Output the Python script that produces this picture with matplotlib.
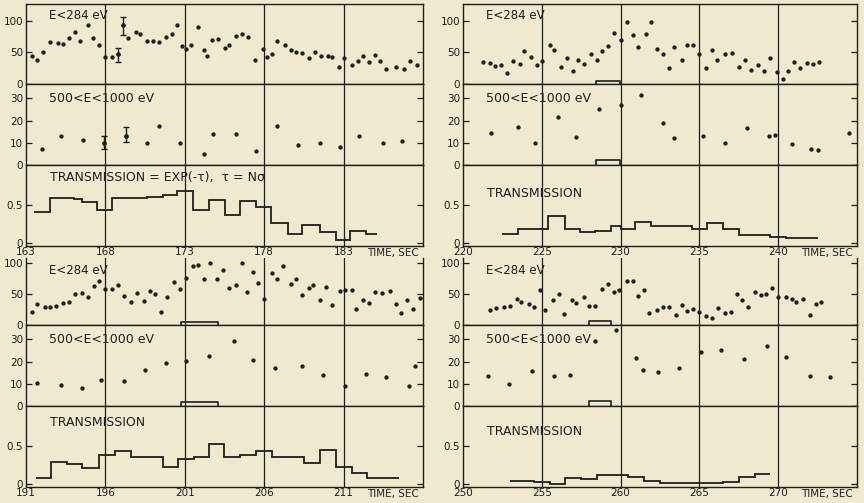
import numpy as np
import matplotlib
matplotlib.use("Agg")
import matplotlib.pyplot as plt

# ---- block 1: 163-188 s ----
t1_low = [163.4, 163.7, 164.1, 164.5, 165.0, 165.3, 165.7, 166.1, 166.4, 166.9, 167.2, 167.6,
          168.0, 168.4, 168.8, 169.1, 169.4, 169.9, 170.2, 170.6, 171.0, 171.4, 171.8, 172.2,
          172.5, 172.8, 173.1, 173.4, 173.8, 174.2, 174.4, 174.7, 175.1, 175.5, 175.8, 176.2,
          176.6, 177.0, 177.4, 177.9, 178.2, 178.5, 178.8, 179.3, 179.7, 180.0, 180.4, 180.8,
          181.2, 181.6, 182.0, 182.3, 182.7, 183.0, 183.5, 183.9, 184.2, 184.6, 185.0, 185.3,
          185.7, 186.3, 186.8, 187.2, 187.6]
e1_low = [44.7, 38, 51, 65.8, 64.2, 63.7, 73.2, 82.6, 67.9, 93, 73.2, 61.6,
          43.2, 42.1, 47.4, 93, 73.2, 81.6, 78.9, 67.9, 67.9, 66.3, 74.7, 79.5,
          93.7, 60, 55.8, 61.6, 90.5, 54.2, 44.7, 70, 71, 57, 62, 75.3,
          79.5, 74.2, 37.9, 54.7, 42.1, 47.4, 67.4, 61.6, 54.2, 50.5, 49.5, 40.5,
          50, 44.7, 44.2, 42.1, 26.3, 41.6, 30.5, 36.3, 44.2, 34.2, 45.3, 36.8,
          23.2, 26.8, 23.7, 36.8, 29.5]
t1_low_err = [168.8, 169.1]
e1_low_mid = [47.4, 93]
e1_low_lo = [35, 77]
e1_low_hi = [56, 106]

t1_high = [164.0, 165.2, 166.6, 167.9, 169.3, 170.6, 171.4, 172.7, 174.2, 174.8, 176.2, 177.5,
           178.8, 180.1, 181.5, 182.8, 184.0, 185.5, 186.7]
e1_high = [7.1, 13.2, 11.3, 10, 13, 10.1, 17.6, 10.1, 5, 14, 14, 6.2,
           17.4, 9, 10, 7.9, 13.1, 10, 11]
t1_high_err = [167.9, 169.3]
e1_high_mid = [10, 13]
e1_high_lo = [7.1, 10.3]
e1_high_hi = [13.2, 17]

tr1_edges = [163.5, 164.5, 166.0, 166.5, 167.5, 168.4, 170.6, 171.6, 172.5, 173.5, 174.5,
             175.5, 176.5, 177.5, 178.4, 179.5, 180.4, 181.5, 182.5, 183.4, 184.4, 185.1]
tr1 = [0.41, 0.60, 0.58, 0.54, 0.44, 0.59, 0.61, 0.63, 0.68, 0.44, 0.57,
       0.37, 0.56, 0.48, 0.26, 0.12, 0.24, 0.15, 0.04, 0.16, 0.12]

# ---- block 2: 220-245 s ----
t2_low = [221.3, 221.7, 222.0, 222.4, 222.8, 223.2, 223.6, 223.9, 224.3, 224.7, 225.0, 225.5,
          225.8, 226.2, 226.6, 227.0, 227.3, 227.7, 228.1, 228.5, 228.8, 229.2, 229.6, 230.0,
          230.4, 230.8, 231.1, 231.6, 231.9, 232.3, 232.7, 233.1, 233.4, 233.9, 234.2, 234.6,
          235.0, 235.4, 235.8, 236.1, 236.6, 237.1, 237.5, 237.9, 238.3, 238.7, 239.1, 239.5,
          239.9, 240.3, 240.6, 241.0, 241.4, 241.8, 242.2, 242.6]
e2_low = [34.6, 33, 28.7, 30.3, 18.1, 35.6, 31.9, 52.1, 42, 29.8, 36.2, 61.2,
          53.2, 26.1, 41.5, 20.7, 37.2, 31.9, 47.3, 37.2, 52.7, 59.6, 80.9, 69.1,
          97.9, 76.6, 58, 78.7, 97.9, 55.3, 47.3, 25.5, 59, 38.3, 61.2, 62.2,
          47.9, 25.5, 53.7, 38.3, 47.3, 48.9, 27.1, 37.8, 21.3, 30.3, 19.7, 40.4,
          18.6, 8.5, 19.7, 34.6, 24.5, 33, 31.9, 34]

t2_high = [221.8, 223.5, 224.6, 226.0, 227.2, 228.6, 230.0, 231.3, 232.7, 233.4, 235.2, 236.6,
           238.0, 239.4, 239.8, 240.9, 242.1, 242.5, 244.5]
e2_high = [14.5, 17.2, 10, 21.7, 12.7, 25.4, 27, 31.4, 19, 12, 13, 10,
           16.7, 13, 13.3, 9.3, 7, 6.7, 14.2]

tr2_edges = [222.5, 223.5, 225.4, 226.5, 227.4, 228.4, 229.4, 230.0, 230.9, 231.9, 234.5,
             235.5, 236.5, 237.5, 239.5, 240.5, 242.5]
tr2 = [0.12, 0.19, 0.35, 0.19, 0.14, 0.16, 0.22, 0.19, 0.28, 0.23, 0.18,
       0.26, 0.18, 0.10, 0.08, 0.06]

# ---- block 3: 191-216 s ----
t3_low = [191.4, 191.7, 192.2, 192.5, 192.9, 193.3, 193.7, 194.1, 194.5, 194.9, 195.3, 195.6,
          196.0, 196.4, 196.8, 197.2, 197.6, 198.0, 198.4, 198.8, 199.1, 199.5, 199.9, 200.3,
          200.7, 201.1, 201.5, 201.8, 202.2, 202.6, 203.0, 203.4, 203.8, 204.2, 204.6, 204.9,
          205.3, 205.6, 206.0, 206.5, 206.8, 207.2, 207.7, 208.0, 208.4, 208.8, 209.1, 209.5,
          209.9, 210.3, 210.8, 211.1, 211.5, 211.8, 212.2, 212.6, 213.0, 213.4, 213.9, 214.3,
          214.6, 215.0, 215.4, 215.8]
e3_low = [20.3, 33.2, 29.4, 29.4, 31, 34.8, 36.4, 49.2, 50.8, 45.5, 62.6, 71.1,
          58.8, 57.8, 64.2, 47.1, 37.4, 51.9, 38.5, 54.5, 49.7, 21.4, 45.5, 69,
          58.8, 75.9, 94.7, 97.3, 74.9, 100.5, 74.9, 88.2, 59.9, 65.2, 100.5, 52.4,
          85.6, 67.9, 41.2, 84, 73.8, 94.7, 65.8, 73.8, 48.1, 59.4, 64.7, 40.1,
          61, 32.1, 54.5, 57.2, 56.1, 26.2, 40.1, 34.8, 52.4, 51.3, 55.1, 33.2,
          18.7, 40.1, 25.7, 42.8]

t3_high = [191.7, 193.2, 194.5, 195.7, 197.2, 198.5, 199.8, 201.1, 202.5, 204.1, 205.3, 206.7,
           208.4, 209.7, 211.1, 212.4, 213.7, 215.1, 215.5]
e3_high = [10.3, 9.6, 8.1, 11.8, 11.3, 16.3, 19.3, 20.2, 22.7, 29.5, 20.8, 17.2,
           17.9, 13.9, 8.8, 14.2, 12.9, 9, 17.8]

tr3_edges = [191.6, 192.6, 193.6, 194.5, 195.6, 196.6, 197.6, 199.6, 200.6, 201.6, 202.5,
             203.5, 204.5, 205.5, 206.5, 208.5, 209.5, 210.5, 211.5, 212.5, 214.5]
tr3 = [0.08, 0.29, 0.26, 0.21, 0.38, 0.43, 0.35, 0.22, 0.33, 0.36, 0.53,
       0.36, 0.38, 0.44, 0.35, 0.28, 0.45, 0.22, 0.15, 0.08]

# ---- block 4: 250-275 s ----
t4_low = [251.7, 252.1, 252.6, 253.0, 253.4, 253.7, 254.2, 254.5, 254.9, 255.2, 255.7, 256.1,
          256.4, 256.9, 257.2, 257.7, 258.0, 258.4, 258.8, 259.2, 259.6, 259.9, 260.4, 260.8,
          261.1, 261.5, 261.8, 262.3, 262.7, 263.1, 263.5, 263.9, 264.2, 264.6, 265.0, 265.4,
          265.8, 266.2, 266.6, 267.0, 267.4, 267.7, 268.1, 268.5, 268.9, 269.2, 269.6, 270.0,
          270.5, 270.9, 271.1, 271.6, 272.0, 272.4, 272.7]
e4_low = [24.1, 26.7, 29.4, 30.5, 42.2, 36.9, 34.2, 29.4, 56.1, 23.5, 40.1, 49.2,
          17.1, 39.6, 34.8, 45.5, 30.5, 30.5, 58.3, 65.8, 52.9, 56.1, 71.7, 70.6,
          46.5, 56.1, 19.8, 24.1, 29.4, 29.4, 16.6, 32.1, 22.5, 25.1, 21.4, 14.4,
          11.2, 26.7, 19.8, 21.4, 49.2, 40.1, 28.9, 54, 48.7, 49.2, 59.4, 44.4,
          45.5, 41.2, 37.4, 41.2, 15.5, 33.7, 37.4]

t4_high = [251.6, 252.9, 254.4, 255.8, 256.8, 258.4, 259.7, 261.0, 261.4, 262.4, 263.7, 265.1,
           266.4, 267.8, 269.3, 270.5, 272.0, 273.3]
e4_high = [13.5, 9.7, 15.7, 13.5, 13.8, 29.1, 34.4, 21.7, 16, 15.1, 17, 24.2,
           25.4, 21.1, 26.9, 22, 13.5, 13]

tr4_edges = [253.0, 254.5, 255.5, 256.5, 257.5, 258.5, 260.5, 261.5, 262.5, 266.5, 267.5,
             268.5, 269.5]
tr4 = [0.035, 0.02, 0.005, 0.08, 0.065, 0.115, 0.09, 0.035, 0.01, 0.03, 0.09, 0.13]

BG = "#efe9cf"
INK = "#1e1e1e"
W, H = 864, 503


def add_ax(fig, x0, x1, top, bottom):
    # panel placed by pixel edges (y measured from top of figure)
    return fig.add_axes([x0 / W, 1 - bottom / H, (x1 - x0) / W, (bottom - top) / H])


def style(ax, xmin, yticks, ylabels, ylim):
    ax.set_facecolor(BG)
    ax.set_xlim(xmin, xmin + 25)
    ax.set_ylim(*ylim)
    for s in ax.spines.values():
        s.set_color(INK)
        s.set_linewidth(1.0)
    for g in range(xmin + 5, xmin + 25, 5):
        ax.axvline(g, color=INK, lw=0.9)
    ax.set_yticks(yticks)
    ax.set_yticklabels(ylabels)
    ax.tick_params(axis="y", direction="in", length=4, width=0.9, right=True,
                   labelsize=7.5, pad=2, colors=INK)
    ax.tick_params(axis="x", length=0, labelbottom=False)


def bracket(ax, x0, x1, h):
    ax.plot([x0, x0, x1, x1], [0, h, h, 0], color=INK, lw=1.2, clip_on=False)


def draw_block(fig, x0, x1, tops, xmin, e_top, tl, el, th, eh, edges, levels,
               trans_label, trans_y, lowlab_y, br=None):
    t_ax, b1, b2, b3 = tops
    ax1 = add_ax(fig, x0, x1, t_ax, b1)
    ax2 = add_ax(fig, x0, x1, b1, b2)
    ax3 = add_ax(fig, x0, x1, b2, b3)

    style(ax1, xmin, [0, 50, 100], ["0", "50", "100"], (0, e_top))
    ax1.plot(tl, el, "o", ms=2.1, color=INK)
    ax1.text(0.058, lowlab_y, "E<284 eV", transform=ax1.transAxes, fontsize=8.5,
             color=INK, va="center")

    style(ax2, xmin, [0, 10, 20, 30], ["0", "10", "20", "30"], (0, 36.5))
    ax2.plot(th, eh, "o", ms=2.1, color=INK)
    ax2.text(0.058, 0.82, "500<E<1000 eV", transform=ax2.transAxes, fontsize=9,
             color=INK, va="center")

    style(ax3, xmin, [0, 0.5], ["0", "0.5"], (-0.04, 1.03))
    ax3.stairs(levels, edges, baseline=None, color=INK, lw=1.3)
    ax3.text(0.06, trans_y, trans_label, transform=ax3.transAxes, fontsize=9,
             color=INK, va="center")

    xt = list(range(xmin, xmin + 25, 5))
    ax3.set_xticks(xt)
    ax3.set_xticklabels([str(v) for v in xt])
    ax3.tick_params(axis="x", labelbottom=True, labelsize=7.5, pad=1, colors=INK)
    ax3.text(0.99, -0.03, "TIME, SEC", transform=ax3.transAxes, fontsize=7.5,
             ha="right", va="top", color=INK)

    if br is not None:
        bracket(ax1, br[0], br[1], br[2])
        bracket(ax2, br[0], br[1], br[3])
    return ax1, ax2, ax3


fig = plt.figure(figsize=(W / 100, H / 100), dpi=100)
fig.patch.set_facecolor(BG)

# top-left
a1, a2, a3 = draw_block(fig, 26, 423, (4, 84, 165, 246), 163, 126, t1_low, e1_low,
                        t1_high, e1_high, tr1_edges, tr1,
                        "TRANSMISSION = EXP(-\u03c4),  \u03c4 = N\u03c3", 0.84, 0.86)
a1.errorbar(t1_low_err, e1_low_mid,
            yerr=[np.subtract(e1_low_mid, e1_low_lo), np.subtract(e1_low_hi, e1_low_mid)],
            fmt="o", ms=2.1, color=INK, elinewidth=1, capsize=2)
a2.errorbar(t1_high_err, e1_high_mid,
            yerr=[np.subtract(e1_high_mid, e1_high_lo), np.subtract(e1_high_hi, e1_high_mid)],
            fmt="o", ms=2.1, color=INK, elinewidth=1, capsize=2)

# top-right
draw_block(fig, 463, 857, (4, 84, 165, 246), 220, 126, t2_low, e2_low,
           t2_high, e2_high, tr2_edges, tr2, "TRANSMISSION", 0.65, 0.86,
           br=(228.45, 229.98, 4.7, 2.2))

# bottom-left
b1, _, _ = draw_block(fig, 26, 423, (258, 325, 406, 487), 191, 108, t3_low, e3_low,
                      t3_high, e3_high, tr3_edges, tr3, "TRANSMISSION", 0.80, 0.82,
                      br=(200.76, 203.1, 5.4, 1.8))
b1.spines["top"].set_visible(False)

# bottom-right
c1, _, _ = draw_block(fig, 463, 857, (258, 325, 406, 487), 250, 108, t4_low, e4_low,
                      t4_high, e4_high, tr4_edges, tr4, "TRANSMISSION", 0.68, 0.82,
                      br=(258.0, 259.4, 6.0, 2.1))
c1.spines["top"].set_visible(False)

fig.savefig("out.png", dpi=100, facecolor=BG)
